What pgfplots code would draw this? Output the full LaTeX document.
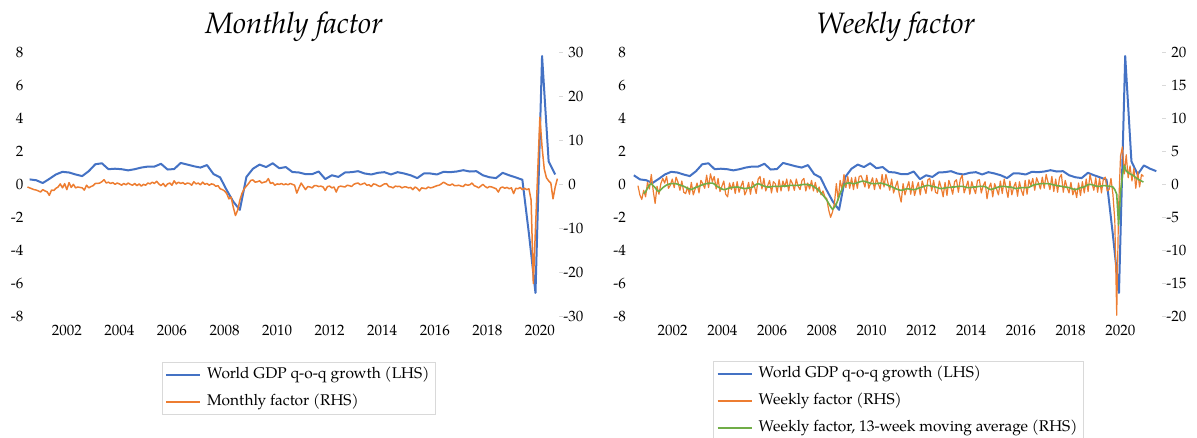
\documentclass[border=0pt]{standalone}
\usepackage{fontspec}
\setmainfont{TeX Gyre Pagella}
\usepackage{pgfplots}
\pgfplotsset{compat=1.18}
\usepackage{pgfplotstable}
\definecolor{cblue}{HTML}{4472C4}
\definecolor{corange}{HTML}{ED7D31}
\definecolor{cgreen}{HTML}{70AD47}
\definecolor{cframe}{HTML}{D9D9D9}

% World GDP q-o-q growth (LHS), quarterly, plotted at mid-quarter
\pgfplotstableread[row sep=\\]{
t g\\
2000.833 0.55\\ 2001.083 0.30\\ 2001.333 0.25\\ 2001.583 0.08\\ 2001.833 0.33\\
2002.083 0.60\\ 2002.333 0.76\\ 2002.583 0.72\\ 2002.833 0.60\\
2003.083 0.50\\ 2003.333 0.80\\ 2003.583 1.22\\ 2003.833 1.28\\
2004.083 0.92\\ 2004.333 0.95\\ 2004.583 0.92\\ 2004.833 0.85\\
2005.083 0.92\\ 2005.333 1.02\\ 2005.583 1.08\\ 2005.833 1.08\\
2006.083 1.25\\ 2006.333 0.90\\ 2006.583 0.93\\ 2006.833 1.30\\
2007.083 1.20\\ 2007.333 1.10\\ 2007.583 1.02\\ 2007.833 1.17\\
2008.083 0.62\\ 2008.333 0.42\\ 2008.583 -0.35\\ 2008.833 -1.05\\
2009.083 -1.55\\ 2009.333 0.45\\ 2009.583 0.95\\ 2009.833 1.20\\
2010.083 1.05\\ 2010.333 1.28\\ 2010.583 0.98\\ 2010.833 1.05\\
2011.083 0.75\\ 2011.333 0.72\\ 2011.583 0.62\\ 2011.833 0.62\\
2012.083 0.78\\ 2012.333 0.32\\ 2012.583 0.55\\ 2012.833 0.45\\
2013.083 0.72\\ 2013.333 0.74\\ 2013.583 0.80\\ 2013.833 0.66\\
2014.083 0.60\\ 2014.333 0.70\\ 2014.583 0.74\\ 2014.833 0.60\\
2015.083 0.74\\ 2015.333 0.66\\ 2015.583 0.55\\ 2015.833 0.38\\
2016.083 0.66\\ 2016.333 0.66\\ 2016.583 0.60\\ 2016.833 0.76\\
2017.083 0.74\\ 2017.333 0.78\\ 2017.583 0.86\\ 2017.833 0.78\\
2018.083 0.80\\ 2018.333 0.55\\ 2018.583 0.43\\ 2018.833 0.38\\
2019.083 0.70\\ 2019.333 0.55\\ 2019.583 0.42\\ 2019.833 0.28\\
2020.083 -3.0\\ 2020.333 -6.6\\ 2020.583 7.8\\ 2020.833 1.4\\
2021.083 0.6\\ 2021.333 1.15\\ 2021.583 0.95\\ 2021.833 0.8\\
}\gdp

% Monthly factor (RHS), Jan 2001 - Mar 2021
\pgfplotstableread[row sep=\\]{
m\\
-0.6\\ -0.8\\ -1.0\\ -1.2\\ -1.3\\ -1.5\\ -1.75\\ -1.2\\ -1.5\\ -1.7\\ -2.5\\ -1.3\\
-1.4\\ -0.9\\ -0.6\\ 0.1\\ -0.8\\ 0.15\\ -1.2\\ 0.4\\ -0.7\\ 0.0\\ -0.8\\ -0.6\\
-0.7\\ -0.8\\ -1.3\\ -0.2\\ -0.8\\ -0.5\\ -0.3\\ 0.2\\ 0.2\\ 0.3\\ 0.6\\ 1.06\\
0.3\\ 0.5\\ 0.2\\ 0.4\\ 0.0\\ 0.3\\ 0.1\\ -0.2\\ 0.2\\ -0.1\\ 0.3\\ 0.0\\
-0.2\\ 0.2\\ -0.3\\ 0.1\\ -0.4\\ 0.0\\ -0.2\\ 0.3\\ 0.1\\ 0.5\\ 0.2\\ 0.7\\
0.1\\ -0.3\\ 0.2\\ -0.5\\ 0.1\\ 0.3\\ -0.2\\ 0.8\\ 0.1\\ 0.5\\ 0.2\\ 0.4\\
0.0\\ 0.3\\ 0.2\\ -0.2\\ 0.6\\ 0.1\\ 0.3\\ -0.1\\ 0.5\\ 0.0\\ 0.2\\ -0.2\\
0.1\\ 0.0\\ -0.45\\ -0.3\\ -1.0\\ -1.2\\ -1.5\\ -2.1\\ -3.3\\ -2.9\\ -5.2\\ -7.1\\
-5.9\\ -3.6\\ -2.0\\ -1.0\\ -0.4\\ 0.2\\ 0.9\\ 1.0\\ 0.5\\ 0.6\\ 0.8\\ 0.3\\
0.5\\ 0.6\\ 1.3\\ 0.2\\ 0.4\\ -0.2\\ 0.1\\ 0.0\\ 0.2\\ -0.1\\ 0.1\\ -0.1\\
0.2\\ 0.0\\ -0.2\\ -2.0\\ -0.8\\ 0.3\\ -0.45\\ -1.2\\ -0.5\\ -0.6\\ -0.8\\ -0.3\\
-0.3\\ -0.5\\ -0.4\\ -0.6\\ -1.4\\ -0.5\\ -0.4\\ -0.8\\ -0.6\\ -1.75\\ -0.6\\ -0.4\\
-0.5\\ -0.6\\ -0.2\\ -0.3\\ -0.5\\ 0.0\\ 0.2\\ 0.3\\ -0.1\\ 0.1\\ 0.3\\ -0.2\\
-0.1\\ -0.5\\ 0.1\\ 0.0\\ -0.3\\ -0.5\\ -0.2\\ 0.1\\ 0.15\\ -0.5\\ -0.6\\ -0.8\\
-0.4\\ -0.5\\ -0.45\\ -0.8\\ -0.6\\ -0.6\\ -0.8\\ -0.7\\ -1.2\\ -0.6\\ -0.9\\ -1.5\\
-0.8\\ -0.9\\ -1.0\\ -0.6\\ -0.8\\ -0.7\\ -0.5\\ -0.3\\ -0.2\\ 0.1\\ 0.5\\ 0.2\\
-0.1\\ -0.2\\ 0.1\\ -0.3\\ -0.3\\ -0.2\\ -0.4\\ -0.5\\ 0.0\\ -0.2\\ -0.1\\ 0.3\\
-0.3\\ -0.5\\ -0.8\\ -0.4\\ 0.0\\ -0.5\\ -0.8\\ -0.5\\ -0.6\\ -0.8\\ -1.0\\ -1.75\\
-0.8\\ -0.6\\ -0.9\\ -0.7\\ -1.0\\ -0.8\\ -2.1\\ -0.9\\ -1.0\\ -0.7\\ -1.2\\ -0.9\\
-1.2\\ -1.0\\ -3.6\\ -22.6\\ -10.0\\ 2.7\\ 15.3\\ 8.5\\ 3.5\\ 1.5\\ 0.8\\ 0.3\\
-3.3\\ -0.6\\ 1.3\\
}\monthly

% Weekly factor (RHS) and its 13-week moving average, every 4th week from Jan 2001
\pgfplotstableread[row sep=\\]{
w ma\\
-0.2 nan\\ -1.6 nan\\ -2.3 nan\\ -0.9 -1.4\\ -1.9 -1.1\\ 0.3 -0.6\\ -0.7 -0.1\\ 1.5 0.1\\ -1.0 -0.2\\ -2.9 -0.5\\ -0.3 -0.9\\ -1.5 -1.1\\ 0.1 -0.8\\
0.9 -0.5\\ 0.2 -0.3\\ 1.2 -0.1\\ -0.6 0.0\\ -0.1 0.1\\ 0.8 0.1\\ -0.5 0.1\\ 1.1 0.1\\ 0.3 0.0\\ -0.9 -0.1\\ 0.5 -0.2\\ -1.2 -0.3\\ -1.4 -0.45\\
-0.4 -0.6\\ -1.5 -0.7\\ 0.3 -0.8\\ -1.6 -0.65\\ -0.7 -0.5\\ 0.2 -0.4\\ -1.3 -0.3\\ 0.6 -0.15\\ 0.1 -0.05\\ -0.6 0.05\\ 1.4 0.12\\ -0.5 0.15\\ 1.6 0.18\\
0.4 0.2\\ 1.2 0.05\\ -0.7 -0.2\\ 0.9 -0.4\\ -1.1 -0.55\\ -0.3 -0.7\\ 0.5 -0.8\\ -1.5 -0.75\\ -1.9 -0.65\\ 0.2 -0.55\\ -0.8 -0.5\\ 0.3 -0.45\\ -1.4 -0.42\\
0.4 -0.4\\ -1.2 -0.45\\ -0.3 -0.5\\ 0.5 -0.6\\ -1.6 -0.65\\ -0.9 -0.6\\ 0.3 -0.55\\ -1.5 -0.5\\ 0.4 -0.45\\ -0.2 -0.2\\ -1.4 0.0\\ 0.8 0.1\\ 1.2 0.0\\
-0.7 -0.15\\ 0.9 -0.25\\ -1.0 -0.35\\ -0.2 -0.4\\ 0.6 -0.4\\ -1.3 -0.35\\ 0.4 -0.3\\ 0.1 -0.3\\ -1.2 -0.3\\ 0.7 -0.3\\ -1.0 -0.3\\ 0.5 -0.25\\ -0.4 -0.25\\
0.8 -0.25\\ -1.0 -0.2\\ 0.7 -0.15\\ 0.1 -0.15\\ -0.9 -0.15\\ 0.8 -0.15\\ -0.3 -0.15\\ -0.8 -0.1\\ 0.6 -0.05\\ 0.9 0.0\\ -1.0 0.0\\ 0.2 -0.05\\ -0.7 -0.1\\
0.6 -0.15\\ -1.0 -0.3\\ 0.3 -0.5\\ -1.2 -0.7\\ -0.4 -1.0\\ -1.6 -1.3\\ -1.0 -1.65\\ -1.9 -2.0\\ -2.2 -2.4\\ -3.9 -2.9\\ -5.0 -3.4\\ -4.2 -3.8\\ -2.9 -3.5\\
0.1 -3.0\\ -2.4 -2.2\\ 0.6 -1.4\\ -0.8 -0.7\\ 1.5 -0.1\\ -0.5 0.1\\ 1.2 0.2\\ -0.6 0.2\\ 1.0 0.15\\ -0.8 0.1\\ 1.1 0.15\\ -0.6 0.25\\ 1.2 0.35\\
1.3 0.45\\ 0.5 0.5\\ -0.4 0.45\\ 1.4 0.35\\ -0.6 0.25\\ 0.2 0.15\\ 1.0 0.1\\ -0.8 0.1\\ 0.9 0.1\\ 0.1 0.15\\ -0.7 0.2\\ 1.5 0.15\\ -0.4 0.05\\
1.5 0.0\\ 0.3 -0.15\\ -0.9 -0.25\\ 0.8 -0.35\\ -1.3 -0.5\\ -0.4 -0.65\\ 0.5 -0.75\\ -1.5 -0.85\\ -2.7 -0.9\\ 0.1 -0.85\\ -1.6 -0.75\\ -0.5 -0.65\\ 0.4 -0.7\\
-1.5 -0.75\\ 0.4 -0.8\\ -1.7 -0.8\\ -0.6 -0.7\\ 0.3 -0.6\\ -1.6 -0.5\\ 0.5 -0.4\\ -0.4 -0.3\\ -1.4 -0.2\\ 0.7 -0.15\\ 0.9 -0.2\\ -1.0 -0.3\\ 0.6 -0.35\\
-1.2 -0.4\\ -1.4 -0.5\\ 0.5 -0.6\\ -0.5 -0.65\\ -1.9 -0.6\\ 0.3 -0.55\\ -1.7 -0.5\\ 0.6 -0.45\\ -0.3 -0.45\\ -1.5 -0.4\\ 0.4 -0.4\\ 0.7 -0.35\\ -1.2 -0.3\\
0.8 -0.3\\ 1.4 -0.3\\ -1.3 -0.35\\ -0.4 -0.45\\ 0.5 -0.5\\ -1.5 -0.5\\ 0.4 -0.45\\ -0.6 -0.4\\ -1.4 -0.4\\ 0.6 -0.35\\ 0.7 -0.3\\ -1.3 -0.3\\ -0.2 -0.3\\
0.4 -0.35\\ -2.2 -0.5\\ -0.5 -0.7\\ 0.2 -0.8\\ -1.9 -0.7\\ 0.1 -0.6\\ -0.7 -0.5\\ -1.6 -0.4\\ 0.5 -0.35\\ -1.4 -0.3\\ 0.8 -0.3\\ -0.6 -0.35\\ -2.0 -0.4\\
0.5 -0.4\\ -1.6 -0.45\\ -0.4 -0.55\\ 0.3 -0.65\\ -1.8 -0.6\\ 0.4 -0.55\\ -0.9 -0.5\\ -1.7 -0.5\\ 0.6 -0.5\\ -1.5 -0.5\\ 0.7 -0.45\\ -0.2 -0.3\\ 0.9 -0.15\\
-0.9 -0.05\\ 1.0 0.0\\ 0.2 0.05\\ -0.7 0.1\\ 1.1 0.1\\ -0.6 0.1\\ 1.5 0.1\\ 0.3 0.1\\ -0.8 0.05\\ 1.2 0.0\\ -1.1 -0.1\\ 0.8 -0.15\\ -1.2 -0.2\\
1.0 -0.25\\ 1.5 -0.3\\ -1.2 -0.35\\ 0.6 -0.4\\ -0.5 -0.45\\ -1.3 -0.5\\ 0.3 -0.6\\ -1.6 -0.7\\ -0.6 -0.8\\ -2.0 -0.75\\ 0.2 -0.65\\ -1.7 -0.5\\ 0.4 -0.45\\
-1.3 -0.4\\ 0.8 -0.2\\ -1.1 -0.05\\ 1.5 0.0\\ 0.2 -0.05\\ -0.9 -0.15\\ 1.0 -0.25\\ -1.2 -0.3\\ 0.9 -0.3\\ -1.3 -0.25\\ 0.8 -0.2\\ 1.1 -0.2\\ -1.0 -0.25\\
-0.8 -0.3\\ 0.9 -0.3\\ -1.5 -0.4\\ -5.5 -0.8\\ -19.9 -1.5\\ -3.5 -6.2\\ 4.3 -1.2\\ 5.7 1.4\\ 1.6 2.9\\ 4.5 2.0\\ 1.0 1.8\\ 2.8 1.6\\ 0.5 1.45\\ 2.4 1.3\\ -0.6 1.0\\ 1.9 0.85\\ -0.4 0.65\\ 1.5 0.5\\ 1.2 0.35\\
}\weekly

\pgfplotsset{
  panel/.style={
    scale only axis, height=263.3pt, anchor=south west,
    tick label style={font=\fontsize{15}{18}\selectfont},
  },
  lhs/.style={
    ymin=-8, ymax=8,
    ytick={-8,-6,-4,-2,0,2,4,6,8},
    yticklabels={-8,-6,-4,-2,0,2,4,6,8},
    axis x line*=bottom, axis y line*=left,
    axis line style={draw=none}, tick style={draw=none},
    xticklabel style={yshift=-5.5pt},
  },
  rhs/.style={
    axis x line=none, axis y line*=right,
    axis line style={draw=none},
    tick align=outside, major tick length=4pt,
    ytick style={draw=cframe, line width=0.8pt},
    yticklabel style={anchor=west, inner sep=0.5pt},
    legend cell align=left,
    legend image code/.code={\draw[##1, line width=2pt] (0pt,0pt) -- (34pt,0pt);},
    legend style={anchor=north west, draw=cframe, line width=0.8pt,
      font=\fontsize{15.5}{18}\selectfont, inner xsep=3pt, inner ysep=3pt,
      row sep=8pt,
      /tikz/every odd column/.style={column sep=3pt},
      nodes={inner xsep=3pt, inner ysep=2pt, text height=11pt, text depth=4pt}},
  },
}

\begin{document}
\begin{tikzpicture}
\useasboundingbox (0pt,0pt) rectangle (1197pt,437pt);

% ---------- Left panel: Monthly factor ----------
\begin{axis}[panel, lhs, at={(26.9pt,121pt)}, width=531.9pt,
  xmin=2000.98, xmax=2021.22,
  xtick={2002.5,2004.5,2006.5,2008.5,2010.5,2012.5,2014.5,2016.5,2018.5,2020.5},
  xticklabels={2002,2004,2006,2008,2010,2012,2014,2016,2018,2020}]
\addplot[cblue, line width=2pt, line join=round, restrict x to domain=2001:2021.2] table[x=t, y=g] {\gdp};
\end{axis}
\begin{axis}[panel, rhs, at={(26.9pt,121pt)}, width=531.9pt,
  xmin=2000.98, xmax=2021.22,
  ymin=-30, ymax=30, ytick={-30,-20,-10,0,10,20,30},
  yticklabels={-30,-20,-10,\phantom{-}0,\phantom{-}10,\phantom{-}20,\phantom{-}30},
  legend style={at={(0.2534,-0.1736)}}]
\addlegendimage{cblue}
\addlegendentry{World GDP q-o-q growth (LHS)}
\addplot[corange, line width=1.5pt, line join=round] table[x expr={2001+\coordindex/12}, y=m] {\monthly};
\addlegendentry{Monthly factor (RHS)}
\end{axis}
\node[font=\fontsize{29.5}{34}\selectfont\itshape] at (294pt,410pt) {Monthly factor};

% ---------- Right panel: Weekly factor ----------
\begin{axis}[panel, lhs, at={(629.5pt,121pt)}, width=532.2pt,
  xmin=2000.66, xmax=2022.05,
  xtick={2002.39,2004.39,2006.39,2008.39,2010.39,2012.39,2014.39,2016.39,2018.39,2020.39},
  xticklabels={2002,2004,2006,2008,2010,2012,2014,2016,2018,2020}]
\addplot[cblue, line width=2pt, line join=round] table[x=t, y=g] {\gdp};
\end{axis}
\begin{axis}[panel, rhs, at={(629.5pt,121pt)}, width=532.2pt,
  xmin=2000.66, xmax=2022.05,
  ymin=-20, ymax=20, ytick={-20,-15,-10,-5,0,5,10,15,20},
  yticklabels={-20,-15,-10,-5,\phantom{-}0,\phantom{-}5,\phantom{-}10,\phantom{-}15,\phantom{-}20},
  legend style={at={(0.1575,-0.1698)}}]
\addlegendimage{cblue}
\addlegendentry{World GDP q-o-q growth (LHS)}
\addplot[corange, line width=1.2pt, line join=round] table[x expr={2001+\coordindex*0.0766598}, y=w] {\weekly};
\addlegendentry{Weekly factor (RHS)}
\addplot[cgreen, line width=1.6pt, line join=round] table[x expr={2001+\coordindex*0.0766598}, y=ma] {\weekly};
\addlegendentry{Weekly factor, 13-week moving average (RHS)}
\end{axis}
\node[font=\fontsize{29.5}{34}\selectfont\itshape] at (895.6pt,410pt) {Weekly factor};
\end{tikzpicture}
\end{document}
